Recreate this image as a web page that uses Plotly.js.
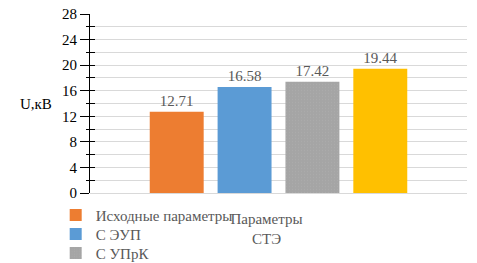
<!DOCTYPE html>
<html>
<head>
<meta charset="utf-8">
<script src="https://cdn.plot.ly/plotly-3.0.1.min.js"></script>
<style>html,body{margin:0;padding:0;background:#fff;}#chart{width:477px;height:263px;}</style>
</head>
<body>
<div id="chart"></div>
<script>
const categories = ["Параметры<br>СТЭ"];
const seriesNames = ["Исходные параметры", "С ЭУП", "С УПрК", "С ЭУП и УПрК"];
const seriesValues = [[12.71], [16.58], [17.42], [19.44]];
const seriesColors = ["#ED7D31", "#5B9BD5", "#A5A5A5", "#FFC000"];
const yTickValues = [0, 4, 8, 12, 16, 20, 24, 28];
const yAxisLabel = "U,кВ";

const FONT = "'Liberation Serif', 'Times New Roman', 'DejaVu Serif', serif";
const legendIds = ["legend", "legend2", "legend3", null];
const legendY = [-0.032, -0.138, -0.244];

const traces = seriesNames.map((name, i) => {
  const t = {
    type: "bar",
    name: name,
    x: categories,
    y: seriesValues[i],
    text: seriesValues[i].map(v => v.toFixed(2)),
    textposition: "outside",
    cliponaxis: false,
    textfont: {family: FONT, size: 15, color: "#595959"},
    marker: i === 2
      ? {color: seriesColors[i], pattern: {shape: ".", fgcolor: "#ababab", bgcolor: seriesColors[i], size: 3, solidity: 0.15, fillmode: "replace"}}
      : {color: seriesColors[i]},
    showlegend: legendIds[i] !== null,
    hoverinfo: "none"
  };
  if (legendIds[i]) t.legend = legendIds[i];
  return t;
});

traces.push({type: "scatter", x: categories, y: [null], yaxis: "y2", showlegend: false, hoverinfo: "none"});

function legendBox(y) {
  return {
    x: -0.091, xanchor: "left",
    y: y, yanchor: "top",
    orientation: "v",
    font: {family: FONT, size: 15, color: "#595959"},
    itemwidth: 30,
    bgcolor: "rgba(0,0,0,0)"
  };
}

const layout = {
  width: 477, height: 263,
  margin: {l: 90, r: 10, t: 14, b: 70, autoexpand: false},
  paper_bgcolor: "#fff", plot_bgcolor: "#fff",
  font: {family: FONT, size: 15, color: "#595959"},
  barmode: "group",
  bargap: 0.28,
  bargroupgap: 0.205,
  xaxis: {
    type: "category",
    showgrid: false,
    zeroline: false,
    showline: false,
    ticks: "",
    tickfont: {family: FONT, size: 15, color: "#595959"},
    ticklabelshift: -12,
    ticklabelstandoff: 15
  },
  yaxis: {
    range: [0, 28],
    tickvals: yTickValues,
    ticks: "outside",
    ticklen: 9,
    tickcolor: "#000",
    tickwidth: 1,
    showline: true,
    linecolor: "#000",
    linewidth: 1,
    showgrid: true,
    gridcolor: "#d9d9d9",
    zeroline: true,
    zerolinecolor: "#d9d9d9",
    zerolinewidth: 1,
    tickfont: {family: FONT, size: 15, color: "#000"},
    minor: {dtick: 2, showgrid: true, gridcolor: "#d9d9d9", ticks: "outside", ticklen: 3, tickcolor: "#000"}
  },
  yaxis2: {
    overlaying: "y",
    range: [0, 28],
    tickvals: yTickValues,
    ticks: "inside",
    ticklen: 5,
    tickcolor: "#000",
    showticklabels: false,
    showgrid: false,
    zeroline: false,
    side: "left",
    minor: {dtick: 2, ticks: "inside", ticklen: 5, tickcolor: "#000"}
  },
  showlegend: true,
  legend: legendBox(legendY[0]),
  legend2: legendBox(legendY[1]),
  legend3: legendBox(legendY[2]),
  annotations: [{
    text: yAxisLabel, xref: "paper", yref: "paper",
    x: -0.143, y: 0.5, xanchor: "center", yanchor: "middle",
    showarrow: false, font: {family: FONT, size: 15, color: "#000"}
  }]
};

Plotly.newPlot("chart", traces, layout, {displayModeBar: false, staticPlot: true});
</script>
</body>
</html>
